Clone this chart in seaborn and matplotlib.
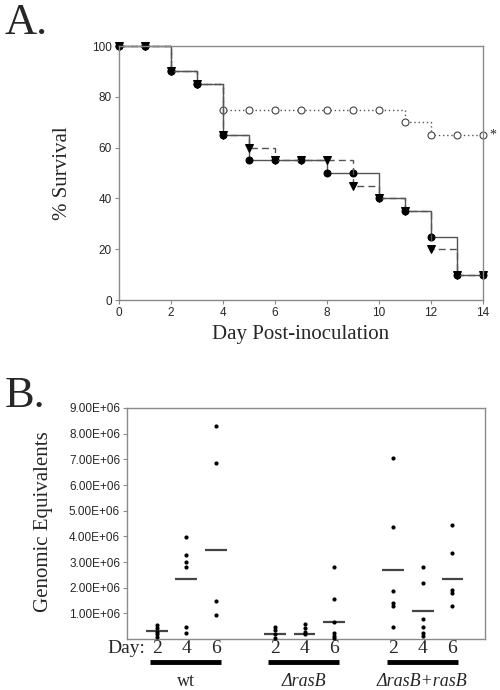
import numpy as np
import pandas as pd
import matplotlib
matplotlib.use("Agg")
import matplotlib.pyplot as plt
import matplotlib.transforms as mtransforms
from matplotlib.ticker import FuncFormatter
import seaborn as sns

# ---------------- Panel A data ----------------
days = [0, 1, 2, 3, 4, 5, 6, 7, 8, 9, 10, 11, 12, 13, 14]
surv_open = [100, 100, 90, 85, 75, 75, 75, 75, 75, 75, 75, 70, 65, 65, 65]
surv_filled = [100, 100, 90, 85, 65, 55, 55, 55, 50, 50, 40, 35, 25, 10, 10]
surv_tri = [100, 100, 90, 85, 65, 60, 55, 55, 55, 45, 40, 35, 20, 10, 10]
a_xticks = [0, 2, 4, 6, 8, 10, 12, 14]
a_yticks = [0, 20, 40, 60, 80, 100]

# ---------------- Panel B data ----------------
groups = ["wt", "\u0394rasB", "\u0394rasB+rasB"]
day_labels = ["2", "4", "6"]
wt_d2 = [0.55e6, 0.42e6, 0.29e6, 0.18e6, 0.09e6]
wt_d4 = [3.98e6, 3.29e6, 3.00e6, 2.80e6, 0.48e6, 0.22e6]
wt_d6 = [8.28e6, 6.87e6, 1.48e6, 0.95e6]
ko_d2 = [0.48e6, 0.35e6, 0.18e6, 0.03e6]
ko_d4 = [0.57e6, 0.42e6, 0.29e6, 0.18e6]
ko_d6 = [2.80e6, 1.57e6, 0.66e6, 0.22e6, 0.13e6, 0.05e6]
co_d2 = [7.06e6, 4.37e6, 1.87e6, 1.39e6, 1.29e6, 0.48e6]
co_d4 = [2.80e6, 2.17e6, 0.77e6, 0.46e6, 0.25e6, 0.12e6]
co_d6 = [4.46e6, 3.37e6, 1.89e6, 1.78e6, 1.29e6]
means = [0.30e6, 2.35e6, 3.46e6, 0.18e6, 0.18e6, 0.65e6, 2.67e6, 1.10e6, 2.34e6]
b_yticks = [1e6, 2e6, 3e6, 4e6, 5e6, 6e6, 7e6, 8e6, 9e6]

sns.set_theme(style="white")
plt.rcParams["font.family"] = ["Liberation Sans", "DejaVu Sans"]
SERIF = ["Liberation Serif", "DejaVu Serif"]
SPINE = "#8a8a8a"
LINE = "#555555"

fig = plt.figure(figsize=(5, 6.9), dpi=100)

# ================= Panel A =================
axA = fig.add_axes([0.238, 0.5652, 0.728, 0.368])
sns.lineplot(x=days, y=surv_open, ax=axA, drawstyle="steps-post", color=LINE,
             linestyle=(0, (1, 2)), linewidth=1.0, marker="o", markersize=5,
             markerfacecolor="white", markeredgecolor="#444444", markeredgewidth=0.8)
sns.lineplot(x=days, y=surv_filled, ax=axA, drawstyle="steps-post", color=LINE,
             linestyle="-", linewidth=1.0, marker="o", markersize=5,
             markerfacecolor="black", markeredgecolor="black")
sns.lineplot(x=days, y=surv_tri, ax=axA, drawstyle="steps-post", color=LINE,
             linestyle=(0, (5, 3)), linewidth=1.0, marker="v", markersize=5.5,
             markerfacecolor="black", markeredgecolor="black")
for ln in axA.lines:
    ln.set_clip_on(False)
axA.set_xlim(0, 14)
axA.set_ylim(0, 100)
axA.set_xticks(a_xticks)
axA.set_yticks(a_yticks)
axA.tick_params(axis="both", which="both", direction="out", length=3, width=0.8,
                color=SPINE, labelsize=8.5, pad=2, bottom=True, left=True)
for s in axA.spines.values():
    s.set_color(SPINE)
    s.set_linewidth(1.0)
axA.set_xlabel("Day Post-inoculation", fontsize=15, family=SERIF, labelpad=4)
axA.set_ylabel("% Survival", fontsize=15, family=SERIF)
axA.yaxis.set_label_coords(-0.128, 0.5)
axA.text(14.25, 65, "*", fontsize=10, va="center", ha="left", family=SERIF)
fig.text(0.01, 0.995, "A.", fontsize=32, family=SERIF, va="top", ha="left")

# ================= Panel B =================
axB = fig.add_axes([0.254, 0.0739, 0.716, 0.3348])
positions = [1, 2, 3, 5, 6, 7, 9, 10, 11]
series = [wt_d2, wt_d4, wt_d6, ko_d2, ko_d4, ko_d6, co_d2, co_d4, co_d6]
rows = []
for p, vals in zip(positions, series):
    for v in vals:
        rows.append({"x": p, "y": v})
dfB = pd.DataFrame(rows)
sns.scatterplot(data=dfB, x="x", y="y", ax=axB, color="black", s=9,
                edgecolor="black", linewidth=0, zorder=3, clip_on=False)
axB.hlines(means, [p - 0.37 for p in positions], [p + 0.37 for p in positions],
           colors="#444444", linewidth=1.6, zorder=2)
axB.set_xlim(0, 12.1)
axB.set_ylim(0, 9e6)
axB.set_yticks(b_yticks)
axB.yaxis.set_major_formatter(FuncFormatter(lambda v, p: f"{v:.2E}"))
axB.set_xticks(positions)
axB.set_xticklabels(day_labels * 3, family=SERIF, fontsize=14)
axB.tick_params(axis="x", length=0, pad=1)
axB.tick_params(axis="y", direction="out", length=3, width=0.8, color=SPINE,
                labelsize=8.5, pad=2, left=True)
for s in axB.spines.values():
    s.set_color(SPINE)
    s.set_linewidth(1.0)
axB.set_xlabel("")
axB.set_ylabel("Genomic Equivalents", fontsize=15, family=SERIF)
axB.yaxis.set_label_coords(-0.207, 0.506)

trans = mtransforms.blended_transform_factory(axB.transData, axB.transAxes)
axB.text(0.62, -0.006, "Day:", transform=trans, family=SERIF, fontsize=14,
         ha="right", va="top")
group_starts = [positions[0], positions[3], positions[6]]
for gi, (g, st) in enumerate(zip(groups, group_starts)):
    axB.plot([st - 0.22, st + 2.18], [-0.099, -0.099], transform=trans,
             color="black", linewidth=3.5, clip_on=False, solid_capstyle="butt")
    style = "normal" if gi == 0 else "italic"
    axB.text(st + 0.98, -0.145, g, transform=trans, family=SERIF, fontsize=13,
             style=style, ha="center", va="top")
fig.text(0.01, 0.455, "B.", fontsize=32, family=SERIF, va="top", ha="left")

fig.savefig("out.png", dpi=100)
